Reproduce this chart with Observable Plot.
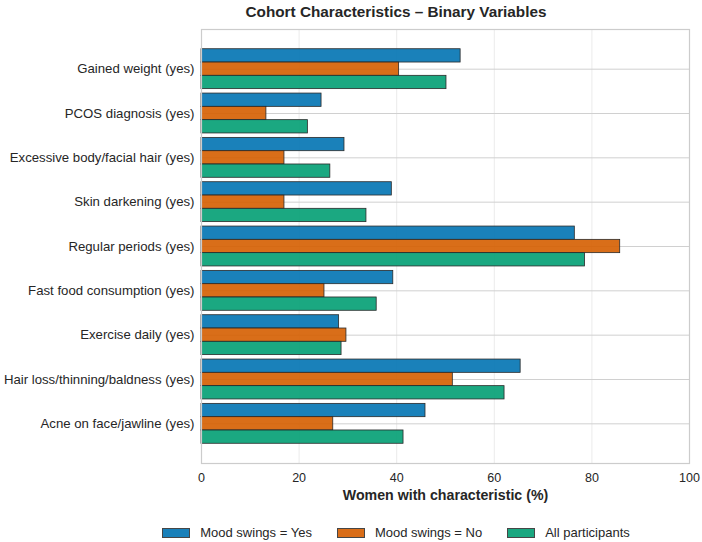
<!DOCTYPE html>
<html>
<head>
<meta charset="utf-8">
<script src="https://cdn.jsdelivr.net/npm/d3@7"></script>
<script src="https://cdn.jsdelivr.net/npm/@observablehq/plot@0.6"></script>
<style>
  body { margin: 0; background: #fff; font-family: "Liberation Sans", Arial, sans-serif; color: #262626; }
  #wrap { width: 702px; height: 542px; position: relative; overflow: hidden; }
  .title { height: 24px; line-height: 24px; margin-left: 90px; width: 612px; text-align: center;
           font-weight: bold; font-size: 15.3px; color: #262626; }
  .legend { margin-left: 90px; width: 612px; display: flex; justify-content: center; gap: 25px;
            padding-top: 15px; font-size: 13px; color: #262626; }
  .legend .item { display: flex; align-items: center; gap: 10px; }
  .legend .sw { width: 26px; height: 8px; border: 1px solid #333; }
  svg [aria-label="x-axis label"] text { font-weight: bold; font-size: 14.2px; }
</style>
</head>
<body>
<div id="wrap">
  <div class="title">Cohort Characteristics – Binary Variables</div>
  <div id="chart"></div>
  <div class="legend" id="legend"></div>
</div>
<script>
// Binary cohort characteristics, share of women (%) per group
const categories = [
  "Gained weight (yes)",
  "PCOS diagnosis (yes)",
  "Excessive body/facial hair (yes)",
  "Skin darkening (yes)",
  "Regular periods (yes)",
  "Fast food consumption (yes)",
  "Exercise daily (yes)",
  "Hair loss/thinning/baldness (yes)",
  "Acne on face/jawline (yes)"
];
const seriesNames = ["Mood swings = Yes", "Mood swings = No", "All participants"];
const moodYes = [53.1, 24.6, 29.3, 39.0, 76.5, 39.3, 28.2, 65.4, 45.9];
const moodNo  = [40.5, 13.3, 17.0, 17.0, 85.8, 25.2, 29.7, 51.5, 27.0];
const allParticipants = [50.2, 21.8, 26.4, 33.8, 78.6, 35.9, 28.7, 62.1, 41.4];
const xTicks = [0, 20, 40, 60, 80, 100];
const colors = ["#0173b2", "#d55e00", "#029e73"];

// Grouped bars: each category sits at an integer slot, three bars of height 0.3 around it
const barHeight = 0.3;
const seriesValues = [moodYes, moodNo, allParticipants];
const rows = [];
categories.forEach((cat, i) => {
  seriesValues.forEach((vals, j) => {
    const offset = (j - 1) * barHeight;
    rows.push({
      category: cat,
      series: seriesNames[j],
      value: vals[i],
      y1: i + offset - barHeight / 2,
      y2: i + offset + barHeight / 2
    });
  });
});
const slots = categories.map((_, i) => i);
const pad = 0.45 + 0.05 * (categories.length - 1 + 0.9);

const chart = Plot.plot({
  width: 702,
  height: 486,
  marginTop: 5,
  marginBottom: 47,
  marginLeft: 201,
  marginRight: 13,
  style: { fontFamily: "Liberation Sans, Arial, sans-serif", fontSize: "12.5px", color: "#262626", background: "#fff" },
  x: { domain: [0, 100] },
  y: { domain: [-pad, categories.length - 1 + pad], reverse: true },
  color: { domain: seriesNames, range: colors },
  marks: [
    Plot.gridX({ ticks: xTicks, stroke: "#ebebeb", strokeOpacity: 1, strokeWidth: 1 }),
    Plot.gridY({ ticks: slots, stroke: "#d0d0d0", strokeOpacity: 1, strokeWidth: 1 }),
    Plot.rectX(rows, {
      x1: () => 0,
      x2: "value",
      y1: "y1",
      y2: "y2",
      fill: "series",
      fillOpacity: 0.9,
      stroke: "#2a2a2a",
      strokeWidth: 0.8
    }),
    Plot.frame({ stroke: "#cccccc", strokeWidth: 1.2 }),
    Plot.axisY({ ticks: slots, tickFormat: (i) => categories[i], tickSize: 0, tickPadding: 7, fontSize: 13.2, label: null }),
    Plot.axisX({ ticks: xTicks, tickSize: 0, tickPadding: 10, fontSize: 12.5,
                 label: "Women with characteristic (%)", labelAnchor: "center", labelArrow: "none", labelOffset: 36 })
  ]
});
document.getElementById("chart").appendChild(chart);

// Legend row under the chart
const legend = document.getElementById("legend");
seriesNames.forEach((name, j) => {
  const item = document.createElement("div");
  item.className = "item";
  const sw = document.createElement("span");
  sw.className = "sw";
  sw.style.background = colors[j];
  sw.style.opacity = 0.9;
  const label = document.createElement("span");
  label.textContent = name;
  item.appendChild(sw);
  item.appendChild(label);
  legend.appendChild(item);
});
</script>
</body>
</html>
